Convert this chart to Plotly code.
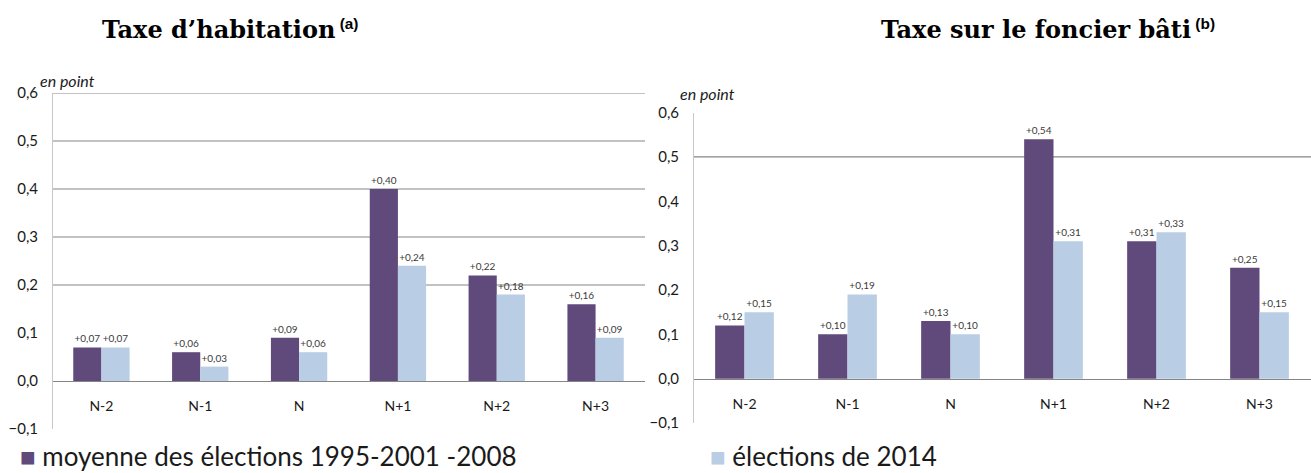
import plotly.graph_objects as go

categories = ["N-2", "N-1", "N", "N+1", "N+2", "N+3"]

# Taxe d'habitation
th_moyenne = [0.07, 0.06, 0.09, 0.40, 0.22, 0.16]
th_2014 = [0.07, 0.03, 0.06, 0.24, 0.18, 0.09]

# Taxe sur le foncier bâti
tfb_moyenne = [0.12, 0.10, 0.13, 0.54, 0.31, 0.25]
tfb_2014 = [0.15, 0.19, 0.10, 0.31, 0.33, 0.15]

y_ticks = [-0.1, 0.0, 0.1, 0.2, 0.3, 0.4, 0.5, 0.6]
left_grid = [0.2, 0.3, 0.4, 0.5, 0.6]
right_grid = [0.5]

name_moy = "moyenne des élections 1995-2001 -2008"
name_2014 = "élections de 2014"

PURPLE = "#604A7B"
BLUE = "#B9CDE5"
AXIS = "#858585"
SANS = "Lato, Noto Sans, sans-serif"

W, H = 1311, 473


def lab(vals):
    return ["+" + f"{v:.2f}".replace(".", ",") for v in vals]


fig = go.Figure()

def add_bars(vals, color, name, xa, ya):
    fig.add_trace(go.Bar(
        x=categories, y=vals, name=name, marker=dict(color=color, line=dict(width=0)),
        text=lab(vals), textposition="outside", cliponaxis=False,
        textfont=dict(family=SANS, size=10, color="#3A3A3A"),
        xaxis=xa, yaxis=ya, showlegend=False,
    ))

add_bars(th_moyenne, PURPLE, name_moy, "x", "y")
add_bars(th_2014, BLUE, name_2014, "x", "y")
add_bars(tfb_moyenne, PURPLE, name_moy, "x2", "y2")
add_bars(tfb_2014, BLUE, name_2014, "x2", "y2")

def px_x(p):
    return p / W

def px_y(p):
    return 1 - p / H

xcommon = dict(type="category", showline=True, linecolor=AXIS, linewidth=1.2,
               ticks="", showgrid=False, zeroline=False, anchor="free",
               tickfont=dict(family=SANS, size=14, color="#1a1a1a"),
               ticklabelstandoff=12)
ycommon = dict(range=[-0.1, 0.6], tickvals=y_ticks, tickformat=".1f",
               showgrid=False, zeroline=False, showline=True, linecolor="#C8C8C8",
               linewidth=1, ticks="", tickfont=dict(family=SANS, size=15, color="#1a1a1a"),
               ticklabelstandoff=11)

fig.update_layout(
    width=W, height=H, margin=dict(l=0, r=0, t=0, b=0, autoexpand=False),
    paper_bgcolor="white", plot_bgcolor="white",
    separators=", ",
    barmode="group", bargap=0.43, bargroupgap=0,
    showlegend=False,
    xaxis=dict(domain=[px_x(52), px_x(645)], position=px_y(381), **xcommon),
    yaxis=dict(domain=[px_y(429), px_y(93)], anchor="free", position=px_x(52), **ycommon),
    xaxis2=dict(domain=[px_x(693), 1.0], position=px_y(379), **xcommon),
    yaxis2=dict(domain=[px_y(423), px_y(112.6)], anchor="free", position=px_x(693), **ycommon),
)

for v in left_grid:
    fig.add_shape(type="line", xref="x domain", yref="y", x0=0, x1=1, y0=v, y1=v,
                  line=dict(color=AXIS, width=1.2), layer="below")
for v in right_grid:
    fig.add_shape(type="line", xref="x2 domain", yref="y2", x0=0, x1=1, y0=v, y1=v,
                  line=dict(color=AXIS, width=1.2), layer="below")

TITLE_FONT = "DejaVu Serif, serif"
SUP = "<span style='font-family:Liberation Sans, Arial, sans-serif;font-size:22px'><sup><b>%s</b></sup></span>"

fig.add_annotation(text="<b>Taxe d’habitation</b>" + SUP % " (a)", xref="paper", yref="paper",
                   x=px_x(100), y=px_y(29), xanchor="left", yanchor="middle", showarrow=False,
                   font=dict(family=TITLE_FONT, size=24, color="#000000"))
fig.add_annotation(text="<b>Taxe sur le foncier bâti</b>" + SUP % " (b)", xref="paper", yref="paper",
                   x=px_x(879), y=px_y(29), xanchor="left", yanchor="middle", showarrow=False,
                   font=dict(family=TITLE_FONT, size=24, color="#000000"))

fig.add_annotation(text="<i>en point</i>", xref="paper", yref="paper",
                   x=px_x(38), y=px_y(80), xanchor="left", yanchor="middle", showarrow=False,
                   font=dict(family=SANS, size=16, color="#1a1a1a"))
fig.add_annotation(text="<i>en point</i>", xref="paper", yref="paper",
                   x=px_x(678), y=px_y(93), xanchor="left", yanchor="middle", showarrow=False,
                   font=dict(family=SANS, size=16, color="#1a1a1a"))

# legend entries (as text boxes)
fig.add_annotation(text=f"<span style='color:{PURPLE}'>■</span> {name_moy}", xref="paper", yref="paper",
                   x=px_x(18), y=px_y(456), xanchor="left", yanchor="middle", showarrow=False,
                   font=dict(family=SANS, size=26, color="#1a1a1a"))
fig.add_annotation(text=f"<span style='color:{BLUE}'>■</span> {name_2014}", xref="paper", yref="paper",
                   x=px_x(708), y=px_y(456), xanchor="left", yanchor="middle", showarrow=False,
                   font=dict(family=SANS, size=26, color="#1a1a1a"))

fig.write_html("out.html", config={"displayModeBar": False},
               post_script="document.body.style.margin='0';document.body.style.overflow='hidden';")
